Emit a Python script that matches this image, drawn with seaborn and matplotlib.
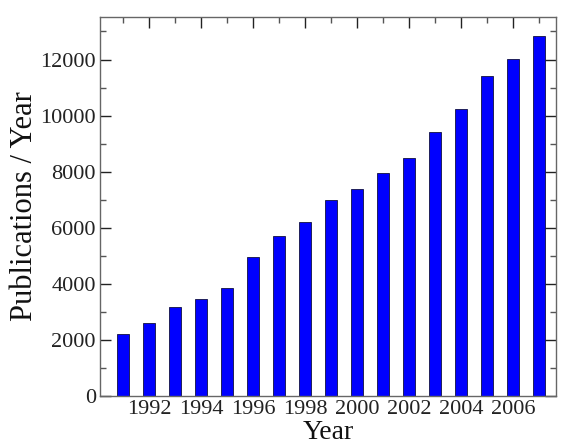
import seaborn as sns
import matplotlib.pyplot as plt
from matplotlib.ticker import MultipleLocator

years = list(range(1991, 2008))
publications = [2210, 2590, 3190, 3470, 3850, 4950, 5720, 6200, 6980,
                7380, 7960, 8500, 9420, 10220, 11400, 12010, 12830]

sns.set_style('ticks')
plt.rcParams['font.family'] = ['Liberation Serif', 'DejaVu Serif']

fig = plt.figure(figsize=(5.63, 4.44), dpi=100)
ax = fig.add_axes([0.1776, 0.108, 0.81, 0.854])

sns.barplot(x=years, y=publications, native_scale=True, width=0.46,
            color='#0000ff', saturation=1, edgecolor='#101040', linewidth=0.6, ax=ax)

ax.set_xlim(1990.1, 2007.65)
ax.set_ylim(0, 13520)
ax.xaxis.set_major_locator(MultipleLocator(2))
ax.xaxis.set_minor_locator(MultipleLocator(1))
ax.yaxis.set_major_locator(MultipleLocator(2000))
ax.yaxis.set_minor_locator(MultipleLocator(1000))
ax.set_xticks(range(1992, 2007, 2))
ax.tick_params(which='both', direction='in', top=True, right=True, color='#555555')
ax.tick_params(which='major', length=8, width=1, labelsize=16, colors='#222222', pad=3)
ax.tick_params(which='minor', length=4, width=1)
for s in ax.spines.values():
    s.set_color('#666666')
    s.set_linewidth(1)

ax.set_xlabel('Year', fontsize=20, color='#111111')
ax.set_ylabel('Publications / Year', fontsize=22, color='#111111')
ax.xaxis.set_label_coords(0.5, -0.062)
ax.yaxis.set_label_coords(-0.134, 0.5)

fig.savefig('out.png', dpi=100)
